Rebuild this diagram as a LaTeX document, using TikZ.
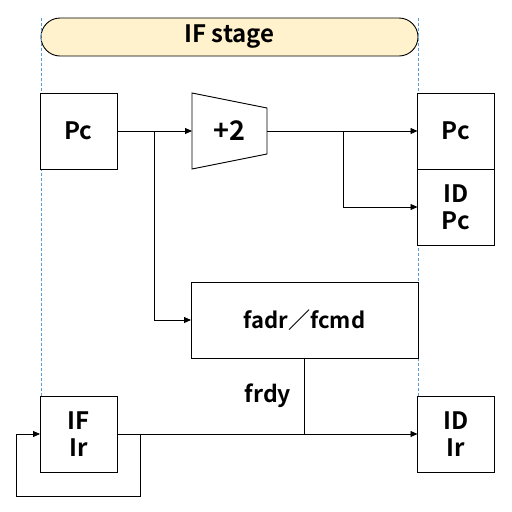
\documentclass[tikz,border=0pt]{standalone}
\usepackage{fontspec}
\setmainfont{Noto Sans CJK JP Bold}
\usetikzlibrary{positioning,arrows.meta}
\definecolor{amarillo}{HTML}{FFF2CC}
\definecolor{guia}{HTML}{5B9BD5}
\tikzstyle{Registro}=[rectangle, draw=black, fill=white, line width=0.9pt, minimum width=77pt, minimum height=76pt, outer sep=0pt, align=center, font=\fontsize{24}{27}\selectfont]
\tikzstyle{Etapa}=[rectangle, rounded corners=19pt, draw=black, fill=amarillo, line width=0.9pt, minimum width=377pt, minimum height=38pt, outer sep=0pt, font=\fontsize{24}{26}\selectfont]
\tikzstyle{Sumador}=[rectangle, minimum width=75pt, minimum height=76pt, outer sep=0pt, font=\fontsize{27}{29}\selectfont]
\tikzstyle{Texto}=[font=\fontsize{23}{25}\selectfont]
\tikzstyle{Flecha}=[-{Triangle[length=7pt, width=6pt]}, line width=0.9pt]
\tikzstyle{Linea}=[line width=0.9pt]
\tikzstyle{Guia}=[dashed, draw=guia, line width=0.6pt, dash pattern=on 3pt off 2pt]

\begin{document}
\begin{tikzpicture}[x=1pt, y=-1pt]
			\useasboundingbox (0,0) rectangle (512,512);

			%Guias
			\coordinate (guia_izq_fin) at (41,396);
			\coordinate (guia_der_fin) at (418,396);

			%Nodos
			\node[Etapa]		(stage)		at (229.5,37)		{IF stage};
			\draw[Guia] (stage.north west) -- (guia_izq_fin);
			\draw[Guia] (stage.north east) -- (guia_der_fin);

			\node[Registro]	(pc)		at (78.5,131)		{Pc};
			\node[Sumador]	(add)		at (229.5,131)		{+2};
			\draw[Linea] (add.north west) -- ([yshift=-15pt]add.north east) -- ([yshift=15pt]add.south east) -- (add.south west) -- cycle;

			\node[Registro]	(pc_id)		at (456,131)		{Pc};
			\node[Registro]	(id_pc)		[below=0pt of pc_id]	{ID\\Pc};

			\node[Registro, minimum width=227pt, font=\fontsize{22}{24}\selectfont]	(fadr)	at (304.5,320)	{fadr／fcmd};

			\node[Registro]	(if_ir)		at (78.5,434)		{IF\\Ir};
			\node[Registro]	(id_ir)		at (456,434)		{ID\\Ir};

			\node[Texto]		(frdy)		at (268,396)		{frdy};

			%Lineas
			\coordinate (rama_pc) at (154,131);
			\coordinate (rama_add) at (343,131);
			\coordinate (rama_ir) at (140,434);
			\coordinate (vuelta) at (16,496);

			\draw[Flecha] (pc.east) -- (add.west);
			\draw[Flecha] (rama_pc) |- (fadr.west);
			\draw[Flecha] (add.east) -- (pc_id.west);
			\draw[Flecha] (rama_add) |- (id_pc.west);
			\draw[Flecha] (if_ir.east) -- (id_ir.west);
			\draw[Linea] (fadr.south) -- (fadr.south |- id_ir.west);
			\draw[Flecha] (rama_ir) |- (vuelta) |- (if_ir.west);

		\end{tikzpicture}
\end{document}
